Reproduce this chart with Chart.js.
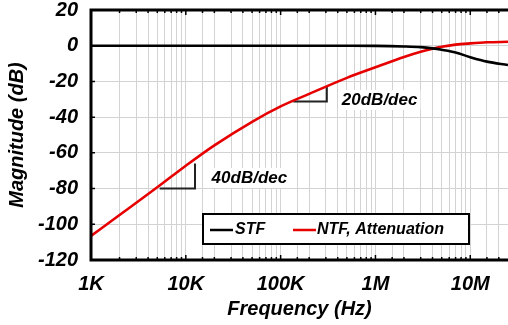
<!DOCTYPE html>
<html><head><meta charset="utf-8">
<script src="https://cdn.jsdelivr.net/npm/chart.js@4"></script>
<style>html,body{margin:0;padding:0;background:#fff;overflow:hidden}canvas{display:block}</style>
</head><body>
<canvas id="c" width="508" height="325"></canvas>
<script>
// ---- data ----
const freqHz = [1e3, 2e3, 5e3, 1e4, 2e4, 5e4, 1e5, 2e5, 5e5, 1e6, 2e6, 3e6, 4e6, 5e6, 7e6, 1e7, 1.5e7, 2.5e7];
const stfDb  = [0, 0, 0, 0, 0, 0, 0, 0, -0.05, -0.1, -0.4, -0.8, -1.5, -2.3, -3.8, -6.4, -8.9, -10.8];
const ntfDb  = [-106.5, -94.8, -79.3, -67.2, -55.8, -42.6, -34, -27, -18, -12.1, -6.3, -3.4, -1.7, -0.6, 0.6, 1.3, 1.9, 2.2];
const seriesNames = ['STF', 'NTF, Attenuation'];
const decadeLabels = {1000:'1K', 10000:'10K', 100000:'100K', 1000000:'1M', 10000000:'10M'};
const yTickValues = [20, 0, -20, -40, -60, -80, -100, -120];
const xTitle = 'Frequency (Hz)';
const yTitle = 'Magnitude (dB)';
const slopeNotes = [
  {label:'40dB/dec', f0:5.3e3, f1:1.25e4, dbLow:-80, dbHigh:-66, textF:1.87e4, textDb:-74},
  {label:'20dB/dec', f0:1.36e5, f1:3.07e5, dbLow:-31.3, dbHigh:-23, textF:4.42e5, textDb:-30.4}
];

const FAM = "'Liberation Sans', Arial, Helvetica, sans-serif";
const font = (s) => ({family: FAM, size: s, weight: 'bold', style: 'italic'});
const GRID = '#d3d3d3';
const RED = '#e60000';

const pts = (vals) => freqHz.map((f, i) => ({x: f, y: vals[i]}));

const decor = {
  id: 'decor',
  beforeDatasetsDraw(chart) {
    const {ctx, scales: {x, y}} = chart;
    ctx.save();
    ctx.font = `italic bold 17px ${FAM}`;
    ctx.textBaseline = 'middle';
    slopeNotes.forEach(n => {
      const x0 = x.getPixelForValue(n.f0), x1 = x.getPixelForValue(n.f1);
      const yl = y.getPixelForValue(n.dbLow), yh = y.getPixelForValue(n.dbHigh);
      const tx = x.getPixelForValue(n.textF), ty = y.getPixelForValue(n.textDb);
      const w = ctx.measureText(n.label).width;
      ctx.fillStyle = '#fff';
      ctx.fillRect(tx - 3, ty - 10, w + 6, 20);
      ctx.fillStyle = '#000';
      ctx.fillText(n.label, tx, ty);
      ctx.strokeStyle = '#222';
      ctx.lineWidth = 2;
      ctx.beginPath();
      ctx.moveTo(x0, yl); ctx.lineTo(x1, yl); ctx.lineTo(x1, yh);
      ctx.stroke();
    });
    ctx.restore();
  },
  afterDatasetsDraw(chart) {
    const {ctx, chartArea: a, scales: {x, y}} = chart;
    ctx.save();
    // frame
    ctx.strokeStyle = '#000';
    ctx.lineWidth = 3;
    ctx.beginPath();
    ctx.moveTo(a.right + 2, a.top); ctx.lineTo(a.left, a.top); ctx.lineTo(a.left, a.bottom); ctx.lineTo(a.right + 2, a.bottom);
    ctx.stroke();
    // inner tick marks
    ctx.lineWidth = 1.5;
    ctx.beginPath();
    x.ticks.forEach(t => {
      const px = x.getPixelForValue(t.value);
      if (px <= a.left + 1 || px >= a.right - 1) return;
      const len = decadeLabels[t.value] ? 5 : 3;
      ctx.moveTo(px, a.top); ctx.lineTo(px, a.top + len);
      ctx.moveTo(px, a.bottom); ctx.lineTo(px, a.bottom - len);
    });
    y.ticks.forEach(t => {
      const py = y.getPixelForValue(t.value);
      if (py <= a.top + 1 || py >= a.bottom - 1) return;
      ctx.moveTo(a.left, py); ctx.lineTo(a.left + 4, py);
    });
    ctx.stroke();
    // legend box
    const lx = 203, ly = 214, lw = 266, lh = 30;
    ctx.fillStyle = '#fff';
    ctx.fillRect(lx, ly, lw, lh);
    ctx.lineWidth = 2;
    ctx.strokeRect(lx, ly, lw, lh);
    ctx.font = `italic bold 16px ${FAM}`;
    ctx.textBaseline = 'middle';
    const items = [{x: 210, tx: 235}, {x: 293, tx: 317}];
    chart.data.datasets.forEach((ds, i) => {
      const it = items[i];
      const cy = ly + lh / 2 + 1;
      ctx.strokeStyle = ds.borderColor;
      ctx.lineWidth = 2.5;
      ctx.beginPath(); ctx.moveTo(it.x, cy); ctx.lineTo(it.x + 23, cy); ctx.stroke();
      ctx.fillStyle = '#000';
      ctx.fillText(ds.label, it.tx, cy);
    });
    ctx.restore();
  }
};

new Chart(document.getElementById('c'), {
  type: 'line',
  data: {
    datasets: [
      {label: seriesNames[0], data: pts(stfDb), borderColor: '#000', borderWidth: 2.6, pointRadius: 0, cubicInterpolationMode: 'monotone', fill: false},
      {label: seriesNames[1], data: pts(ntfDb), borderColor: RED, borderWidth: 2.6, pointRadius: 0, cubicInterpolationMode: 'monotone', fill: false}
    ]
  },
  options: {
    responsive: false,
    animation: false,
    devicePixelRatio: 1,
    layout: {padding: {top: 10, right: 0, left: 0, bottom: 0}},
    plugins: {legend: {display: false}, tooltip: {enabled: false}},
    scales: {
      x: {
        type: 'logarithmic',
        min: 1000, max: 2.5e7,
        afterFit: (s) => { s.height = 65; s.paddingLeft = 0; s.paddingRight = 0; },
        grid: {color: GRID, lineWidth: 1, drawTicks: false},
        border: {display: false},
        ticks: {
          autoSkip: false, maxRotation: 0, minRotation: 0, padding: 12,
          color: '#000', font: font(20),
          callback: (v) => decadeLabels[v] !== undefined ? decadeLabels[v] : ''
        },
        title: {display: true, text: xTitle, color: '#000', font: font(20), padding: {top: 0, bottom: 4}}
      },
      y: {
        type: 'linear',
        min: -120, max: 20,
        afterFit: (s) => { s.width = 91; s.paddingTop = 0; s.paddingBottom = 0; },
        afterBuildTicks: (s) => { s.ticks = yTickValues.map(v => ({value: v})); },
        grid: {color: GRID, lineWidth: 1, drawTicks: false},
        border: {display: false},
        ticks: {padding: 13, color: '#000', font: font(20)},
        title: {display: true, text: yTitle, color: '#000', font: font(20), padding: {top: 5, bottom: 0}}
      }
    }
  },
  plugins: [decor]
});
</script>
</body></html>
